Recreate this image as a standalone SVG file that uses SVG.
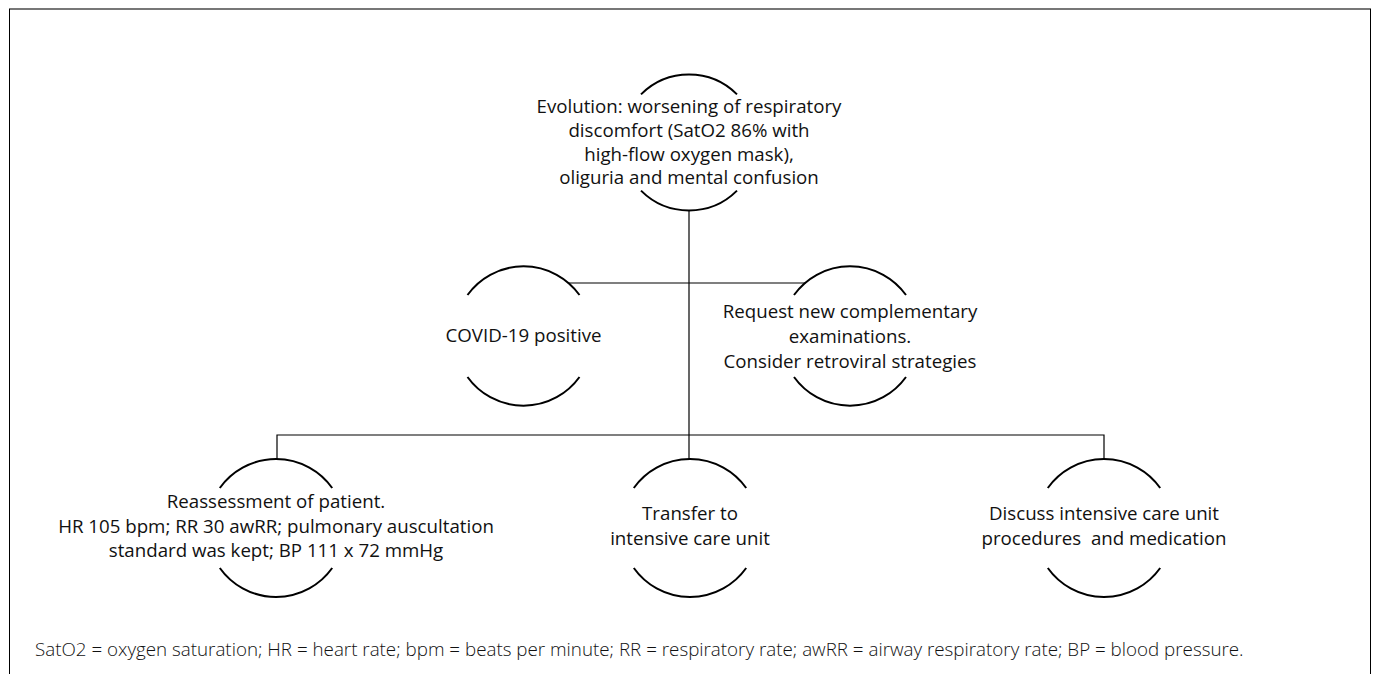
<svg xmlns="http://www.w3.org/2000/svg" width="1373" height="674" viewBox="0 0 1373 674">
<style>
.arc{fill:none;stroke:#000;stroke-width:2}
.con{fill:none;stroke:#000;stroke-width:1.2}
.t{font-family:"Open Sans","Noto Sans",sans-serif;font-size:18.7px;fill:#111;text-anchor:middle}
.foot{font-family:"Open Sans","Noto Sans",sans-serif;font-weight:300;font-size:18.8px;fill:#111}
</style>
<rect x="0" y="0" width="1373" height="674" fill="#fff"/>
<g id="frame">
<line x1="9" y1="9" x2="1371" y2="9" stroke="#777" stroke-width="2"/>
<line x1="9.5" y1="9" x2="9.5" y2="674" stroke="#000" stroke-width="1"/>
<line x1="1370.5" y1="9" x2="1370.5" y2="674" stroke="#000" stroke-width="1"/>
</g>
<g id="connectors">
<path class="con" d="M689 210 V459"/>
<path class="con" d="M567.7 283 H806"/>
<path class="con" d="M277 459 V435 H1104 V459"/>
</g>
<g id="n-evolution">
<path class="arc" d="M641 94.4 A68 68 0 0 1 737 94.4"/>
<path class="arc" d="M641 190.6 A68 68 0 0 0 737 190.6"/>
<text class="t" x="689" y="113">Evolution: worsening of respiratory</text>
<text class="t" x="689" y="137">discomfort (SatO2 86% with</text>
<text class="t" x="689" y="160.5">high-flow oxygen mask),</text>
<text class="t" x="689" y="184">oliguria and mental confusion</text>
</g>
<g id="n-covid">
<path class="arc" d="M467.5 295 A69 69 0 0 1 579.5 295"/>
<path class="arc" d="M467.5 377 A69 69 0 0 0 579.5 377"/>
<text class="t" x="523.5" y="342">COVID-19 positive</text>
</g>
<g id="n-request">
<path class="arc" d="M794 295 A69 69 0 0 1 906 295"/>
<path class="arc" d="M794 377 A69 69 0 0 0 906 377"/>
<text class="t" x="850" y="318">Request new complementary</text>
<text class="t" x="850" y="343">examinations.</text>
<text class="t" x="850" y="368">Consider retroviral strategies</text>
</g>
<g id="n-reassessment">
<path class="arc" d="M219.8 488 A69 69 0 0 1 332.2 488"/>
<path class="arc" d="M219.8 568 A69 69 0 0 0 332.2 568"/>
<text class="t" x="276" y="508">Reassessment of patient.</text>
<text class="t" x="276" y="532.5">HR 105 bpm; RR 30 awRR; pulmonary auscultation</text>
<text class="t" x="276" y="557">standard was kept; BP 111 x 72 mmHg</text>
</g>
<g id="n-transfer">
<path class="arc" d="M633.8 488 A69 69 0 0 1 746.2 488"/>
<path class="arc" d="M633.8 568 A69 69 0 0 0 746.2 568"/>
<text class="t" x="690" y="520">Transfer to</text>
<text class="t" x="690" y="545">intensive care unit</text>
</g>
<g id="n-discuss">
<path class="arc" d="M1047.8 488 A69 69 0 0 1 1160.2 488"/>
<path class="arc" d="M1047.8 568 A69 69 0 0 0 1160.2 568"/>
<text class="t" x="1104" y="520">Discuss intensive care unit</text>
<text class="t" x="1104" y="545" style="white-space:pre">procedures  and medication</text>
</g>
<text class="foot" x="35" y="656">SatO2 = oxygen saturation; HR = heart rate; bpm = beats per minute; RR = respiratory rate; awRR = airway respiratory rate; BP = blood pressure.</text>
</svg>
